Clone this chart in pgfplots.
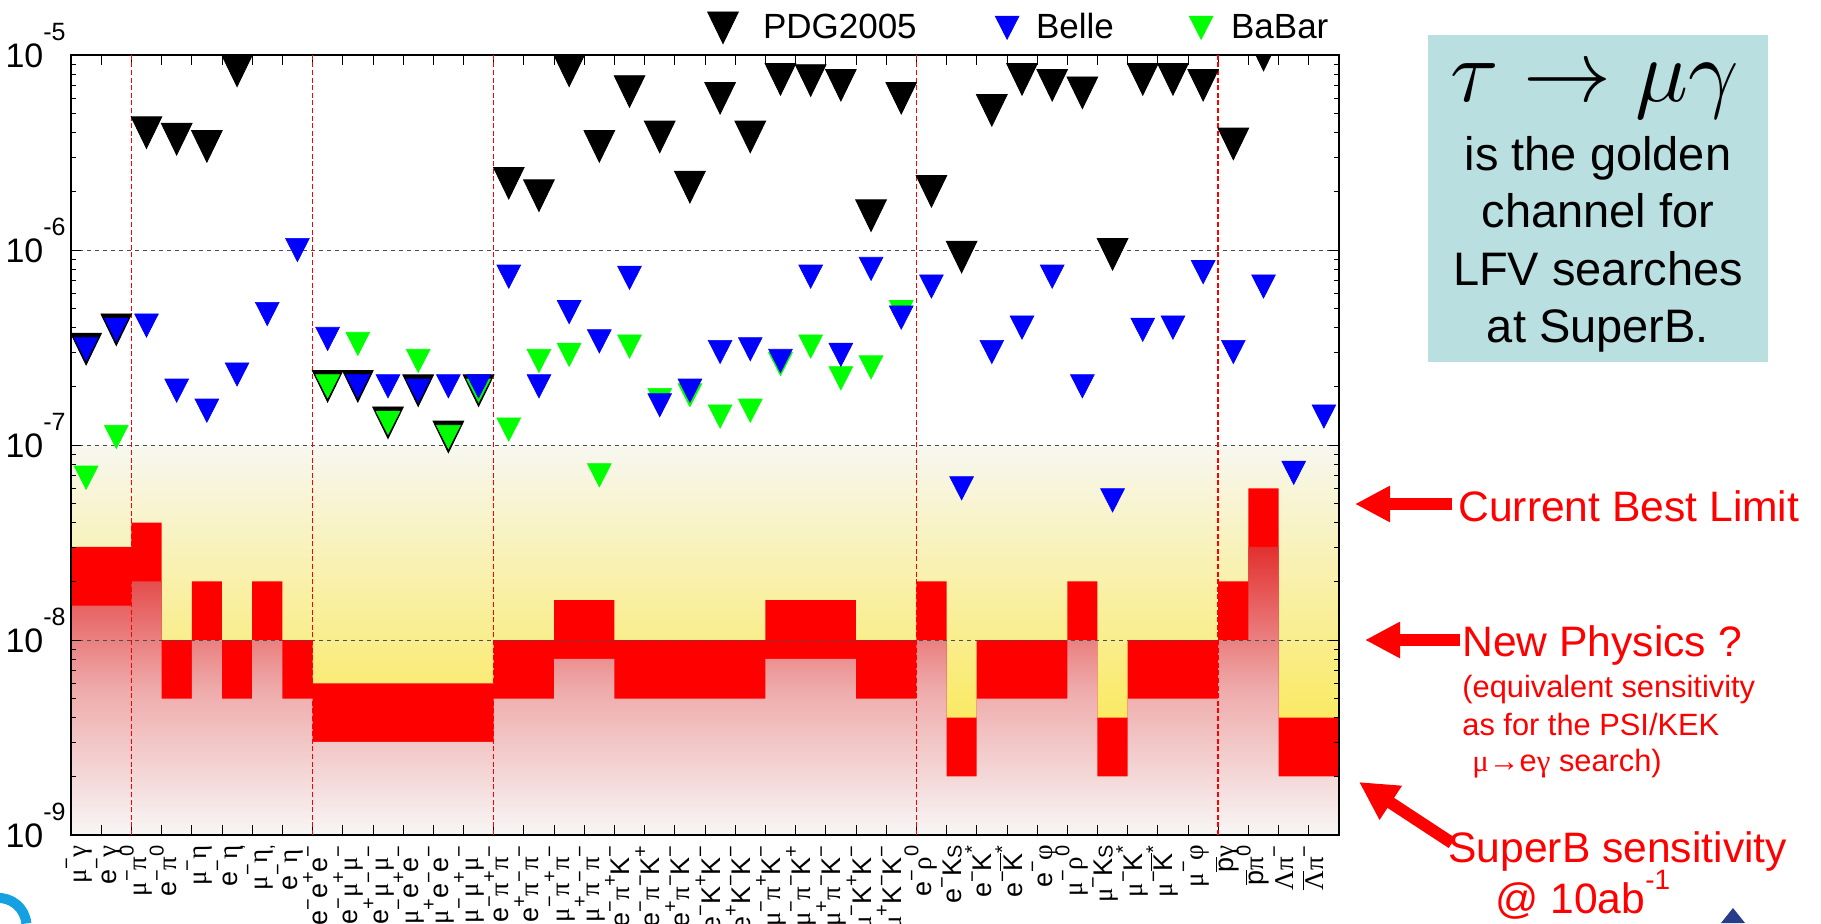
\documentclass[border=0pt]{standalone}
\usepackage{pgfplots}
\pgfplotsset{compat=1.18}
\usepackage{pgfplotstable}
\usepackage{fontspec}
\usepackage{graphicx}
\usetikzlibrary{arrows.meta}
\setmainfont{Liberation Sans}
\newfontfamily\gf{Liberation Serif}
\newcommand{\g}[1]{{\gf #1}}
\newcommand{\up}[1]{\raisebox{0.48em}{\fontsize{10pt}{10pt}\selectfont #1}}
\newcommand{\ob}[1]{$\overline{\hbox{#1}}$}
\newcommand{\ylab}[1]{10\raisebox{0.8em}{\fontsize{12.5pt}{12.5pt}\selectfont #1}}
\definecolor{boxc}{RGB}{185,223,225}
\definecolor{ytop}{RGB}{247,247,240}
\definecolor{ybot}{RGB}{252,228,40}
\definecolor{ptop}{RGB}{226,48,48}
\definecolor{pmid}{RGB}{239,172,172}
\definecolor{pbot}{RGB}{248,246,246}
\definecolor{bgreen}{RGB}{0,255,0}
\definecolor{bblue}{RGB}{0,0,255}
\definecolor{logoc}{RGB}{20,160,225}
\definecolor{logon}{RGB}{40,60,140}
\pgfplotsset{
  pdgmark/.style={only marks, mark=triangle*, mark size=8.86pt,
    mark options={fill=black, draw=black, line width=0.4pt, yshift=2.64pt, yscale=1.19, rotate=180}},
  bellemark/.style={only marks, mark=triangle*, mark size=6.87pt,
    mark options={fill=bblue, draw=bblue, line width=0.3pt, yshift=1.94pt, yscale=1.13, rotate=180}},
  babarmark/.style={only marks, mark=triangle*, mark size=6.87pt,
    mark options={fill=bgreen, draw=bgreen, line width=0.3pt, yshift=1.94pt, yscale=1.13, rotate=180}},
  pdgleg/.style={legend image code/.code={\path[draw=none] (-9pt,0pt) -- (20pt,0pt); \draw[##1] plot coordinates {(0pt,0pt)};}},
  belleleg/.style={legend image code/.code={\path[draw=none] (-45.2pt,0pt) -- (14.5pt,0pt); \draw[##1] plot coordinates {(0pt,0pt)};}},
  babarleg/.style={legend image code/.code={\path[draw=none] (-43.6pt,0pt) -- (15pt,0pt); \draw[##1] plot coordinates {(0pt,0pt)};}},
}

\pgfplotstableread{
x top bot
-0.5 1e-9 1e-9
-0.5 3e-8 1.5e-8
0.5 3e-8 1.5e-8
1.5 4e-8 2e-8
2.5 1e-8 5e-9
3.5 2e-8 1e-8
4.5 1e-8 5e-9
5.5 2e-8 1e-8
6.5 1e-8 5e-9
7.5 6e-9 3e-9
8.5 6e-9 3e-9
9.5 6e-9 3e-9
10.5 6e-9 3e-9
11.5 6e-9 3e-9
12.5 6e-9 3e-9
13.5 1e-8 5e-9
14.5 1e-8 5e-9
15.5 1.6e-8 8e-9
16.5 1.6e-8 8e-9
17.5 1e-8 5e-9
18.5 1e-8 5e-9
19.5 1e-8 5e-9
20.5 1e-8 5e-9
21.5 1e-8 5e-9
22.5 1.6e-8 8e-9
23.5 1.6e-8 8e-9
24.5 1.6e-8 8e-9
25.5 1e-8 5e-9
26.5 1e-8 5e-9
27.5 2e-8 1e-8
28.5 4e-9 2e-9
29.5 1e-8 5e-9
30.5 1e-8 5e-9
31.5 1e-8 5e-9
32.5 2e-8 1e-8
33.5 4e-9 2e-9
34.5 1e-8 5e-9
35.5 1e-8 5e-9
36.5 1e-8 5e-9
37.5 2e-8 1e-8
38.5 6e-8 3e-8
39.5 4e-9 2e-9
40.5 4e-9 2e-9
41.5 4e-9 2e-9
41.5 1e-9 1e-9
}\bands

\pgfplotstableread{
x v
0 3.1e-7
1 3.9e-7
2 4.0e-6
3 3.7e-6
4 3.4e-6
5 8.3e-6
8 2.0e-7
9 2.0e-7
10 1.3e-7
11 1.9e-7
12 1.1e-7
13 1.9e-7
14 2.2e-6
15 1.9e-6
16 8.3e-6
17 3.4e-6
18 6.5e-6
19 3.8e-6
20 2.1e-6
21 6.0e-6
22 3.8e-6
23 7.5e-6
24 7.4e-6
25 7.0e-6
26 1.5e-6
27 6.0e-6
28 2.0e-6
29 9.2e-7
30 5.2e-6
31 7.5e-6
32 7.0e-6
33 6.4e-6
34 9.5e-7
35 7.5e-6
36 7.5e-6
37 7.0e-6
38 3.5e-6
39 1.0e-5
}\pdg

\pgfplotstableread{
x v
0 3.1e-7
1 3.9e-7
2 4.1e-7
3 1.9e-7
4 1.5e-7
5 2.3e-7
6 4.7e-7
7 1.0e-6
8 3.5e-7
9 2.0e-7
10 2.0e-7
11 1.9e-7
12 2.0e-7
13 2.0e-7
14 7.3e-7
15 2.0e-7
16 4.8e-7
17 3.4e-7
18 7.2e-7
19 1.6e-7
20 1.9e-7
21 3.0e-7
22 3.1e-7
23 2.7e-7
24 7.3e-7
25 2.9e-7
26 8.0e-7
27 4.5e-7
28 6.5e-7
29 6.0e-8
30 3.0e-7
31 4.0e-7
32 7.3e-7
33 2.0e-7
34 5.2e-8
35 3.9e-7
36 4.0e-7
37 7.7e-7
38 3.0e-7
39 6.5e-7
40 7.2e-8
41 1.4e-7
}\belle

\pgfplotstableread{
x v
0 6.8e-8
1 1.1e-7
8 2.0e-7
9 3.3e-7
10 1.3e-7
11 2.7e-7
12 1.1e-7
13 1.9e-7
14 1.2e-7
15 2.7e-7
16 2.9e-7
17 7.0e-8
18 3.2e-7
19 1.7e-7
20 1.8e-7
21 1.4e-7
22 1.5e-7
23 2.6e-7
24 3.2e-7
25 2.2e-7
26 2.5e-7
27 4.8e-7
}\babar

\begin{document}
\begin{tikzpicture}
\begin{axis}[
  at={(35.5pt,44pt)}, anchor=south west,
  scale only axis, width=634pt, height=390pt,
  set layers,
  xmin=-0.5, xmax=41.5, ymin=1e-9, ymax=1e-5,
  ymode=log,
  xtick={-0.5,0.5,...,41.5}, xticklabels={},
  extra x ticks={0,1,...,41},
  extra x tick style={major tick length=0pt},
  extra x tick labels={
    {\g{μ}\up{−}\g{γ}},{e\up{−}\g{γ}},{\g{μ}\up{−}\g{π}\up{0}},{e\up{−}\g{π}\up{0}},
    {\g{μ}\up{−}\g{η}},{e\up{−}\g{η}},{\g{μ}\up{−}\g{η}\up{'}},{e\up{−}\g{η}\up{'}},
    {e\up{−}e\up{+}e\up{−}},{e\up{−}\g{μ}\up{+}\g{μ}\up{−}},{e\up{+}\g{μ}\up{−}\g{μ}\up{−}},
    {\g{μ}\up{−}e\up{+}e\up{−}},{\g{μ}\up{+}e\up{−}e\up{−}},{\g{μ}\up{−}\g{μ}\up{+}\g{μ}\up{−}},
    {e\up{−}\g{π}\up{+}\g{π}\up{−}},{e\up{+}\g{π}\up{−}\g{π}\up{−}},
    {\g{μ}\up{−}\g{π}\up{+}\g{π}\up{−}},{\g{μ}\up{+}\g{π}\up{−}\g{π}\up{−}},
    {e\up{−}\g{π}\up{+}K\up{−}},{e\up{−}\g{π}\up{−}K\up{+}},{e\up{+}\g{π}\up{−}K\up{−}},
    {e\up{−}K\up{+}K\up{−}},{e\up{+}K\up{−}K\up{−}},
    {\g{μ}\up{−}\g{π}\up{+}K\up{−}},{\g{μ}\up{−}\g{π}\up{−}K\up{+}},{\g{μ}\up{+}\g{π}\up{−}K\up{−}},
    {\g{μ}\up{−}K\up{+}K\up{−}},{\g{μ}\up{+}K\up{−}K\up{−}},
    {e\up{−}\g{ρ}\up{0}},{e\up{−}K{\fontsize{10pt}{10pt}\selectfont S}},{e\up{−}K\up{*}},{e\up{−}\ob{K}\up{*}},{e\up{−}\g{φ}},
    {\g{μ}\up{−}\g{ρ}\up{0}},{\g{μ}\up{−}K{\fontsize{10pt}{10pt}\selectfont S}},{\g{μ}\up{−}K\up{*}},{\g{μ}\up{−}\ob{K}\up{*}},{\g{μ}\up{−}\g{φ}},
    {\ob{p}\g{γ}},{\ob{p}\g{π}\up{0}},{\g{Λ}\g{π}\up{−}},{\ob{\g{Λ}}\g{π}\up{−}}},
  xticklabel style={rotate=90, anchor=base east, inner xsep=5pt, inner ysep=0pt,
    font=\fontsize{13.5pt}{13.5pt}\selectfont},
  ytick={1e-9,1e-8,1e-7,1e-6,1e-5},
  yticklabels={{\ylab{-9}},{\ylab{-8}},{\ylab{-7}},{\ylab{-6}},{\ylab{-5}}},
  yticklabel style={anchor=base east, inner sep=0pt, xshift=-2.5pt, yshift=-6.1pt,
    font=\fontsize{17pt}{17pt}\selectfont},
  ymajorgrids,
  major grid style={black!70, line width=0.5pt, dash pattern=on 2pt off 2pt},
  tick align=inside, major tick length=5pt, minor tick length=2.5pt,
  tick style={black, line width=0.4pt},
  axis line style={line width=1pt},
  clip marker paths=true,
  legend columns=3,
  legend cell align=left,
  legend style={at={(0.5,1.0349)}, anchor=west, draw=none, fill=none,
    inner sep=0pt, outer sep=0pt, column sep=0pt,
    font=\fontsize{17.5pt}{18pt}\selectfont, nodes={inner sep=0pt}},
]
% background bands
\addplot[forget plot, on layer=axis background, draw=none, top color=ytop, bottom color=ybot]
  coordinates {(-0.5,1e-9) (-0.5,1e-7) (41.5,1e-7) (41.5,1e-9)};
\addplot[forget plot, on layer=axis background, draw=none, fill=red, const plot mark left]
  table[x=x,y=top]{\bands};
\addplot[forget plot, on layer=axis background, draw=none, const plot mark left,
  top color=ptop, bottom color=pbot, middle color=pmid]
  table[x=x,y=bot]{\bands};
% group separators
\addplot[forget plot, red, line width=0.8pt, dash pattern=on 2.5pt off 1.3pt] coordinates {(1.5,1e-9) (1.5,1e-5)};
\addplot[forget plot, red, line width=0.8pt, dash pattern=on 2.5pt off 1.3pt] coordinates {(7.5,1e-9) (7.5,1e-5)};
\addplot[forget plot, red, line width=0.8pt, dash pattern=on 2.5pt off 1.3pt] coordinates {(13.5,1e-9) (13.5,1e-5)};
\addplot[forget plot, red, line width=0.8pt, dash pattern=on 2.5pt off 1.3pt] coordinates {(27.5,1e-9) (27.5,1e-5)};
\addplot[forget plot, red, line width=0.8pt, dash pattern=on 2.5pt off 1.3pt] coordinates {(37.5,1e-9) (37.5,1e-5)};
% limits
\addplot[forget plot, pdgmark] table[x=x,y=v]{\pdg};
\addplot[forget plot, babarmark] table[x=x,y=v]{\babar};
\addplot[forget plot, bellemark] table[x=x,y=v]{\belle};
% legend
\addlegendimage{pdgmark,pdgleg}
\addlegendentry{PDG2005}
\addlegendimage{bellemark,belleleg}
\addlegendentry{Belle}
\addlegendimage{babarmark,babarleg}
\addlegendentry{BaBar}
\end{axis}

% annotation box
\fill[boxc] (714pt,280.5pt) rectangle (884pt,444pt);
\node[anchor=base, inner sep=0pt] at (797.5pt,410.5pt) {\scalebox{4.4}{$\tau\rightarrow\mu\gamma$}};
\begin{scope}[every node/.style={anchor=base, inner sep=0pt, font=\fontsize{23.5pt}{28pt}\selectfont}]
\node at (799pt,376pt) {is the golden};
\node at (799pt,347.5pt) {channel for};
\node at (799pt,319pt) {LFV searches};
\node at (799pt,290.5pt) {at SuperB.};
\end{scope}

% red annotations
\draw[red, line width=6pt, -{Triangle[length=17.5pt,width=17pt]}] (726pt,209.5pt) -- (677.5pt,209.5pt);
\draw[red, line width=6pt, -{Triangle[length=17.5pt,width=17pt]}] (730pt,141.5pt) -- (682.5pt,141.5pt);
\draw[red, line width=6pt, -{Triangle[length=19pt,width=19pt]}] (726pt,40pt) -- (679.5pt,70.5pt);
\begin{scope}[every node/.style={anchor=base west, inner sep=0pt, text=red}]
\node[font=\fontsize{21.3pt}{24pt}\selectfont] at (729pt,201pt) {Current Best Limit};
\node[font=\fontsize{21.3pt}{24pt}\selectfont] at (731pt,133.5pt) {New Physics ?};
\node[font=\fontsize{15.4pt}{18pt}\selectfont] at (731pt,113pt) {(equivalent sensitivity};
\node[font=\fontsize{15.4pt}{18pt}\selectfont] at (731pt,94pt) {as for the PSI/KEK};
\node[font=\fontsize{15.4pt}{18pt}\selectfont] at (736pt,76pt) {\g{μ→}e\g{γ} search)};
\node[font=\fontsize{21.3pt}{24pt}\selectfont] at (724pt,30.5pt) {SuperB sensitivity};
\node[font=\fontsize{21.3pt}{24pt}\selectfont] at (747.5pt,5pt) {@ 10ab\raisebox{0.55em}{\fontsize{14pt}{14pt}\selectfont -1}};
\end{scope}
% cut-off logo fragments at the page edges
\draw[logoc, line width=5pt] (-2pt,12.5pt) arc[start angle=95, end angle=5, radius=14pt];
\fill[logon] (866.5pt,7.5pt) -- (872.5pt,0pt) -- (860.5pt,0pt) -- cycle;
\pgfresetboundingbox
\path[use as bounding box] (0,0) rectangle (910.5pt,461.5pt);
\end{tikzpicture}
\end{document}
